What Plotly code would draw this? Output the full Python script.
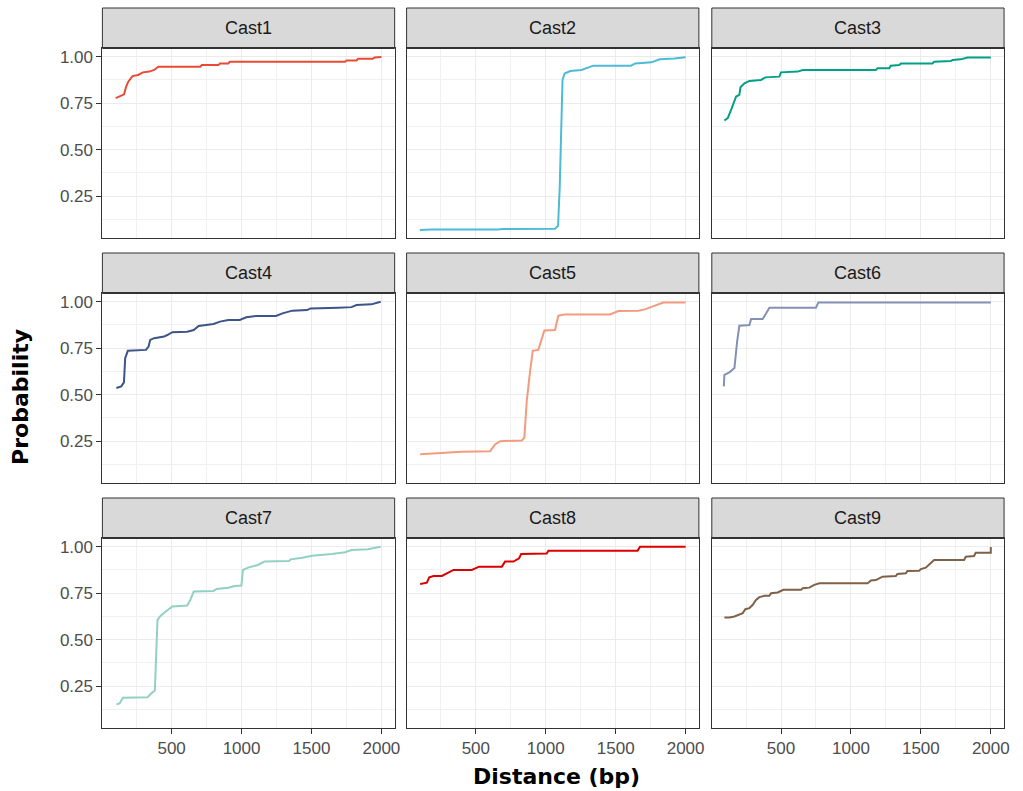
import plotly.graph_objects as go

# ---------------- data ----------------
panel_names = ["Cast1", "Cast2", "Cast3", "Cast4", "Cast5", "Cast6", "Cast7", "Cast8", "Cast9"]
panel_colors = ["#E64B35", "#4DBBD5", "#00A087", "#3C5488", "#F39B7F",
                "#8491B4", "#91D1C2", "#DC0000", "#7E6148"]

cast1_x = [100, 130, 160, 175, 190, 220, 260, 295, 340, 375, 405, 705, 716, 834, 846, 905, 916,
           1740, 1751, 1822, 1834, 1939, 1951, 2000]
cast1_y = [0.777, 0.786, 0.798, 0.84, 0.866, 0.896, 0.902, 0.916, 0.92, 0.929, 0.946, 0.946, 0.955,
           0.955, 0.964, 0.964, 0.973, 0.973, 0.98, 0.98, 0.989, 0.989, 0.996, 0.998]

cast2_x = [100, 180, 660, 690, 1065, 1088, 1100, 1110, 1120, 1135, 1175, 1255, 1295, 1340, 1610,
           1640, 1755, 1815, 1920, 2000]
cast2_y = [0.068, 0.071, 0.071, 0.073, 0.075, 0.09, 0.3, 0.6, 0.875, 0.91, 0.923, 0.929, 0.941,
           0.952, 0.952, 0.964, 0.97, 0.986, 0.991, 0.997]

cast3_x = [95, 119, 143, 179, 202, 210, 238, 274, 357, 388, 488, 500, 619, 655, 1178, 1190, 1274,
           1285, 1345, 1357, 1583, 1595, 1714, 1726, 1785, 1833, 2000]
cast3_y = [0.657, 0.67, 0.714, 0.786, 0.795, 0.836, 0.857, 0.87, 0.875, 0.889, 0.893, 0.916, 0.92,
           0.929, 0.929, 0.9375, 0.9375, 0.952, 0.955, 0.964, 0.964, 0.973, 0.977, 0.982, 0.986,
           0.996, 0.996]

cast4_x = [105, 140, 159, 168, 187, 317, 335, 347, 375, 446, 469, 505, 611, 658, 693, 799, 846, 905,
           987, 1034, 1104, 1246, 1293, 1363, 1469, 1493, 1692, 1787, 1822, 1928, 1995]
cast4_y = [0.536, 0.545, 0.566, 0.696, 0.736, 0.741, 0.759, 0.795, 0.804, 0.8125, 0.821, 0.836,
           0.839, 0.848, 0.87, 0.88, 0.893, 0.902, 0.902, 0.916, 0.923, 0.923, 0.9375, 0.952, 0.955,
           0.964, 0.968, 0.971, 0.982, 0.986, 1.0]

cast5_x = [102, 400, 602, 638, 674, 828, 847, 864, 888, 907, 947, 966, 990, 1066, 1090, 1138, 1459,
           1519, 1662, 1709, 1780, 1840, 2000]
cast5_y = [0.179, 0.193, 0.196, 0.232, 0.25, 0.254, 0.268, 0.464, 0.625, 0.736, 0.741, 0.786, 0.845,
           0.848, 0.925, 0.932, 0.932, 0.95, 0.952, 0.959, 0.979, 0.996, 0.996]

cast6_x = [91, 95, 131, 167, 186, 202, 274, 286, 369, 393, 417, 750, 767, 2000]
cast6_y = [0.545, 0.607, 0.62, 0.643, 0.786, 0.871, 0.875, 0.907, 0.907, 0.9375, 0.968, 0.968,
           0.996, 0.996]

cast7_x = [105, 128, 152, 328, 352, 380, 399, 422, 458, 505, 611, 634, 658, 799, 822, 905, 952, 999,
           1010, 1046, 1116, 1163, 1340, 1351, 1434, 1504, 1645, 1740, 1787, 1904, 1995]
cast7_y = [0.152, 0.157, 0.1875, 0.191, 0.209, 0.227, 0.607, 0.629, 0.652, 0.679, 0.684, 0.714,
           0.759, 0.7625, 0.773, 0.78, 0.789, 0.791, 0.875, 0.8875, 0.902, 0.92, 0.923, 0.932, 0.941,
           0.952, 0.961, 0.97, 0.982, 0.986, 1.0]

cast8_x = [102, 126, 150, 167, 198, 257, 281, 305, 341, 471, 495, 524, 686, 709, 769, 793, 809, 824,
           1007, 1019, 1657, 1674, 2000]
cast8_y = [0.8, 0.804, 0.807, 0.836, 0.843, 0.843, 0.852, 0.8625, 0.875, 0.875, 0.882, 0.893, 0.893,
           0.92, 0.92, 0.932, 0.9375, 0.961, 0.964, 0.979, 0.979, 1.0, 1.0]

cast9_x = [95, 131, 167, 202, 226, 245, 274, 298, 321, 345, 381, 417, 429, 476, 517, 643, 655, 702,
           738, 774, 1119, 1143, 1178, 1202, 1226, 1321, 1333, 1393, 1404, 1488, 1500, 1535, 1571,
           1595, 1809, 1821, 1880, 1892, 1990, 2000, 2000]
cast9_y = [0.62, 0.62, 0.625, 0.634, 0.643, 0.664, 0.67, 0.6875, 0.714, 0.729, 0.736, 0.736, 0.75,
           0.754, 0.768, 0.768, 0.777, 0.78, 0.795, 0.804, 0.804, 0.818, 0.821, 0.83, 0.839, 0.843,
           0.854, 0.857, 0.87, 0.871, 0.88, 0.8875, 0.914, 0.929, 0.929, 0.946, 0.95, 0.968, 0.968,
           0.968, 0.998]

series_x = [cast1_x, cast2_x, cast3_x, cast4_x, cast5_x, cast6_x, cast7_x, cast8_x, cast9_x]
series_y = [cast1_y, cast2_y, cast3_y, cast4_y, cast5_y, cast6_y, cast7_y, cast8_y, cast9_y]

x_tick_vals = [500, 1000, 1500, 2000]
x_tick_text = ["500", "1000", "1500", "2000"]
y_tick_vals = [0.25, 0.50, 0.75, 1.00]
y_tick_text = ["0.25", "0.50", "0.75", "1.00"]
x_title = "Distance (bp)"
y_title = "Probability"

# ---------------- layout geometry ----------------
W, H = 1023, 791
col_px = [(103, 397), (409, 703), (716, 1010)]
row_panel_px = [(48, 238), (293, 483), (538, 728)]   # top, bottom of panel
row_strip_top = [8, 253, 498]

fig = go.Figure()
layout = dict(
    width=W, height=H, autosize=False,
    margin=dict(l=0, r=0, t=0, b=0),
    paper_bgcolor="white", plot_bgcolor="white",
    showlegend=False,
    shapes=[], annotations=[],
)

tick_font = dict(family="Liberation Sans, Arial, sans-serif", size=17, color="#4D4D4D")

for i in range(9):
    r, c = divmod(i, 3)
    n = i + 1
    xa = "xaxis" if n == 1 else f"xaxis{n}"
    ya = "yaxis" if n == 1 else f"yaxis{n}"
    xref = "x" if n == 1 else f"x{n}"
    yref = "y" if n == 1 else f"y{n}"
    x0p, x1p = col_px[c]
    tp, bp = row_panel_px[r]
    layout[xa] = dict(
        domain=[x0p / W, x1p / W], anchor=yref, range=[5, 2095],
        showgrid=True, gridcolor="#EBEBEB", gridwidth=1.3, zeroline=False,
        showline=True, mirror=True, linecolor="#333333", linewidth=1,
        tickvals=x_tick_vals, ticktext=x_tick_text,
        showticklabels=(r == 2), ticks="outside" if r == 2 else "",
        ticklen=5, tickcolor="#333333", tickwidth=1, tickfont=tick_font,
        minor=dict(tickvals=[250, 750, 1250, 1750], showgrid=True,
                   gridcolor="#F0F0F0", gridwidth=0.9, ticks=""),
        fixedrange=True,
    )
    layout[ya] = dict(
        domain=[1 - bp / H, 1 - tp / H], anchor=xref, range=[0.025, 1.047],
        showgrid=True, gridcolor="#EBEBEB", gridwidth=1.3, zeroline=False,
        showline=True, mirror=True, linecolor="#333333", linewidth=1,
        tickvals=y_tick_vals, ticktext=y_tick_text,
        showticklabels=(c == 0), ticks="outside" if c == 0 else "",
        ticklen=5, tickcolor="#333333", tickwidth=1, tickfont=tick_font,
        minor=dict(tickvals=[0.125, 0.375, 0.625, 0.875], showgrid=True,
                   gridcolor="#F0F0F0", gridwidth=0.9, ticks=""),
        fixedrange=True,
    )
    fig.add_trace(go.Scatter(
        x=series_x[i], y=series_y[i], mode="lines",
        line=dict(color=panel_colors[i], width=2),
        xaxis=xref, yaxis=yref, hoverinfo="skip",
    ))
    # strip
    st = row_strip_top[r]
    layout["shapes"].append(dict(
        type="rect", xref="paper", yref="paper",
        x0=x0p / W, x1=x1p / W, y0=1 - tp / H, y1=1 - st / H,
        fillcolor="#D9D9D9", line=dict(color="#333333", width=1), layer="above",
    ))
    layout["shapes"].append(dict(
        type="line", xref="paper", yref="paper",
        x0=x0p / W, x1=x1p / W, y0=1 - tp / H, y1=1 - tp / H,
        line=dict(color="#333333", width=2), layer="above",
    ))
    layout["annotations"].append(dict(
        text=panel_names[i], xref="paper", yref="paper",
        x=(x0p + x1p) / 2 / W, y=1 - (st + tp) / 2 / H,
        xanchor="center", yanchor="middle", showarrow=False,
        font=dict(family="Liberation Sans, Arial, sans-serif", size=18, color="#1A1A1A"),
    ))

layout["annotations"].append(dict(
    text=f"<b>{x_title}</b>", xref="paper", yref="paper",
    x=560 / W, y=1 - 776 / H, xanchor="center", yanchor="middle", showarrow=False,
    font=dict(family="DejaVu Sans, Verdana, sans-serif", size=22, color="black"),
))
layout["annotations"].append(dict(
    text=f"<b>{y_title}</b>", xref="paper", yref="paper",
    x=20 / W, y=1 - 397 / H, xanchor="center", yanchor="middle", showarrow=False,
    textangle=-90,
    font=dict(family="DejaVu Sans, Verdana, sans-serif", size=22, color="black"),
))

fig.update_layout(**layout)
fig.write_html("out.html", config={"displayModeBar": False})
